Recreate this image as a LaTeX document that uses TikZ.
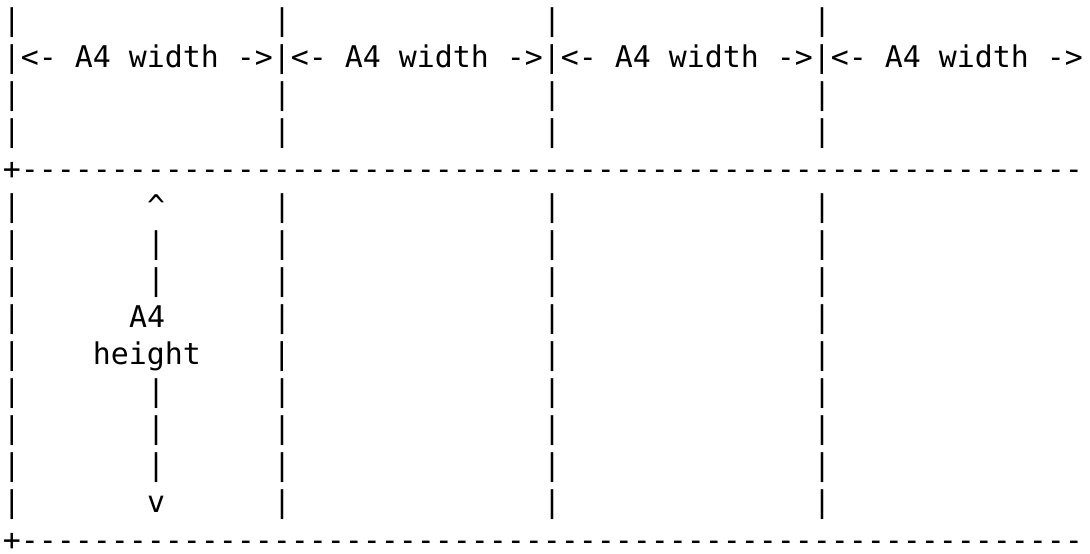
\documentclass[tikz,border=0pt]{standalone}
\usepackage{fontspec}
\setmonofont{DejaVu Sans Mono}
\tikzset{
  asciirow/.style={anchor=base west, inner sep=0pt, outer sep=0pt,
    font=\fontsize{14.95pt}{18.55pt}\selectfont\ttfamily}
}
\def\gapfourteen{~~~~~~~~~~~~~~}
\def\gapseven{~~~~~~~}
\def\gapsix{~~~~~~}
\def\gapfour{~~~~}
\def\wlab{<-~A4~width~->}
\newcommand\dashrun{\foreach \k in {1,...,59}{-\kern0pt}}
\newcommand\rowy[1]{261.2pt-18.55pt*#1}
\begin{document}
\begin{tikzpicture}
\useasboundingbox (0,0) rectangle (545pt,276.5pt);
\node[asciirow] (r0)  at (1.5pt,{\rowy{0}})  {|\gapfourteen|\gapfourteen|\gapfourteen|};
\node[asciirow] (r1)  at (1.5pt,{\rowy{1}})  {|\wlab|\wlab|\wlab|\wlab};
\node[asciirow] (r2)  at (1.5pt,{\rowy{2}})  {|\gapfourteen|\gapfourteen|\gapfourteen|};
\node[asciirow] (r3)  at (1.5pt,{\rowy{3}})  {|\gapfourteen|\gapfourteen|\gapfourteen|};
\node[asciirow] (r4)  at (1.5pt,{\rowy{4}})  {+\dashrun};
\node[asciirow] (r5)  at (1.5pt,{\rowy{5}})  {|\gapseven\string^\gapsix|\gapfourteen|\gapfourteen|};
\node[asciirow] (r6)  at (1.5pt,{\rowy{6}})  {|\gapseven|\gapsix|\gapfourteen|\gapfourteen|};
\node[asciirow] (r7)  at (1.5pt,{\rowy{7}})  {|\gapseven|\gapsix|\gapfourteen|\gapfourteen|};
\node[asciirow] (r8)  at (1.5pt,{\rowy{8}})  {|\gapsix A4\gapsix|\gapfourteen|\gapfourteen|};
\node[asciirow] (r9)  at (1.5pt,{\rowy{9}})  {|\gapfour height\gapfour|\gapfourteen|\gapfourteen|};
\node[asciirow] (r10) at (1.5pt,{\rowy{10}}) {|\gapseven|\gapsix|\gapfourteen|\gapfourteen|};
\node[asciirow] (r11) at (1.5pt,{\rowy{11}}) {|\gapseven|\gapsix|\gapfourteen|\gapfourteen|};
\node[asciirow] (r12) at (1.5pt,{\rowy{12}}) {|\gapseven|\gapsix|\gapfourteen|\gapfourteen|};
\node[asciirow] (r13) at (1.5pt,{\rowy{13}}) {|\gapseven v\gapsix|\gapfourteen|\gapfourteen|};
\node[asciirow] (r14) at (1.5pt,{\rowy{14}}) {+\dashrun};
\end{tikzpicture}
\end{document}
